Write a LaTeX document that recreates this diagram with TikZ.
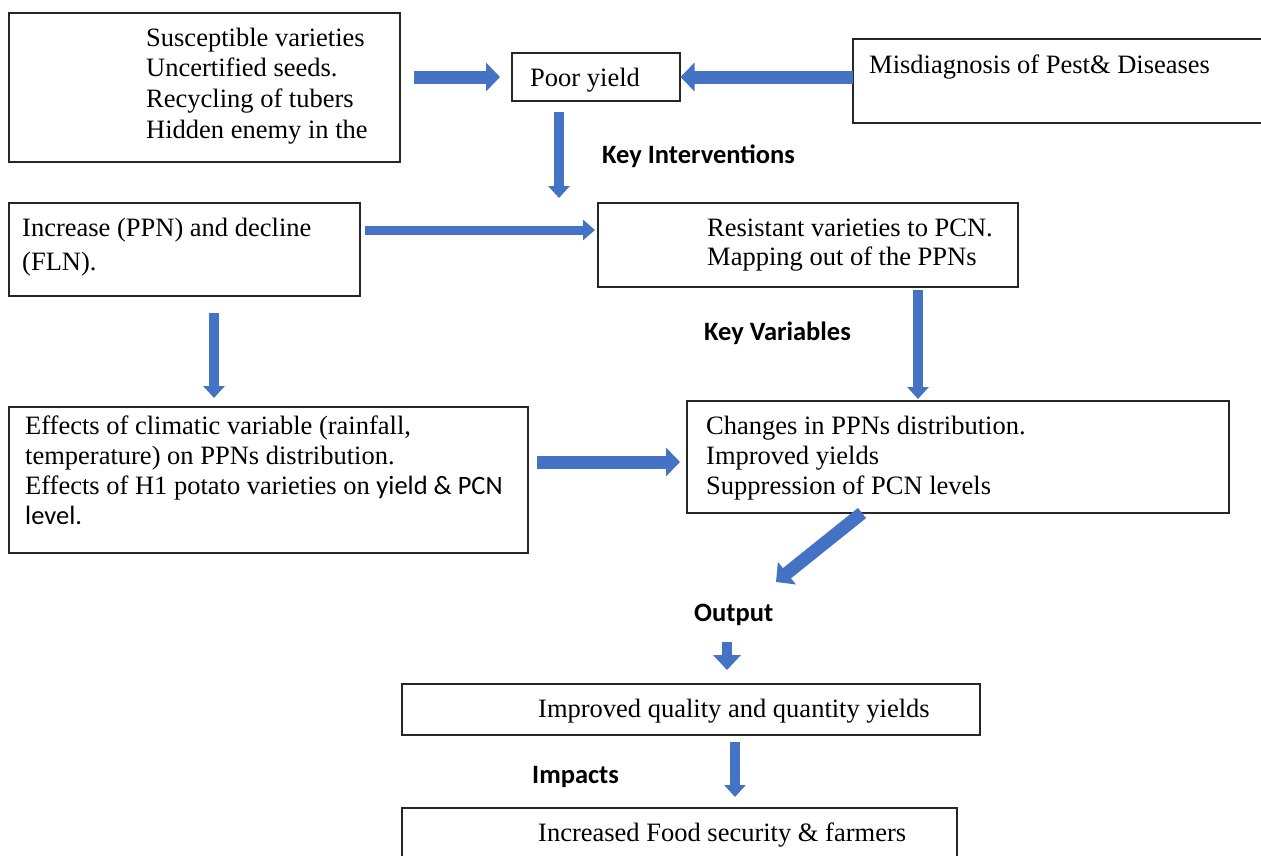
\documentclass[tikz,border=0pt]{standalone}
\usepackage{fontspec}
\setmainfont{Liberation Serif}
\newfontfamily\calfont{Carlito}
\usetikzlibrary{arrows.meta}
\definecolor{ablue}{HTML}{4472C4}
\begin{document}
\begin{tikzpicture}[x=1pt,y=-1pt,
  box/.style={draw=black!85, line width=1.4pt, inner sep=0pt, outer sep=0pt, anchor=north west},
  txt/.style={anchor=base west, inner sep=0pt, font=\fontsize{26.5}{30}\selectfont},
  hd/.style={anchor=base west, inner sep=0pt, font=\calfont\bfseries\fontsize{26.5}{30}\selectfont},
  barrow/.style={draw=ablue, line width=13pt, -{Triangle[length=14pt,width=28pt]}},
  tarrow/.style={draw=ablue, line width=10pt, -{Triangle[length=12pt,width=21pt]}},
]
\useasboundingbox (0,0) rectangle (1261,855);
\clip (0,0) rectangle (1261,855);
\fill[white] (0,0) rectangle (1261,855);

% boxes
\node[box, minimum width=391pt, minimum height=149pt] (tl) at (9,13) {};
\node[box, minimum width=168pt, minimum height=48pt] (py) at (512,53) {};
\node[box, minimum width=420pt, minimum height=84pt] (md) at (853,39) {};
\node[box, minimum width=351pt, minimum height=93pt] (inc) at (9,203) {};
\node[box, minimum width=420pt, minimum height=84pt] (rv) at (598,203) {};
\node[box, minimum width=519pt, minimum height=146pt] (ef) at (9,407) {};
\node[box, minimum width=542pt, minimum height=112pt] (ch) at (687,401) {};
\node[box, minimum width=578pt, minimum height=51pt] (im) at (402,684) {};
\node[box, minimum width=555pt, minimum height=90pt] (fs) at (402,808) {};

% texts
\node[txt] (tla) at (146,46) {Susceptible varieties};
\node[txt] (tlb) at (146,76) {Uncertified seeds.};
\node[txt] (tlc) at (146,107) {Recycling of tubers};
\node[txt] (tld) at (146,138) {Hidden enemy in the};
\node[txt] (pyt) at (530,86) {Poor yield};
\node[txt] (mdt) at (869,73) {Misdiagnosis of Pest\& Diseases};
\node[txt] (inca) at (22,236) {Increase (PPN) and decline};
\node[txt] (incb) at (22,270) {(FLN).};
\node[txt] (rva) at (707,236) {Resistant varieties to PCN.};
\node[txt] (rvb) at (707,265) {Mapping out of the PPNs};
\node[txt] (efa) at (25,434) {Effects of climatic variable (rainfall,};
\node[txt] (efb) at (25,464) {temperature) on PPNs distribution.};
\node[txt] (efc) at (25,494) {Effects of H1 potato varieties on {\calfont yield \& PCN}};
\node[txt] (efd) at (25,524) {\calfont level.};
\node[txt] (cha) at (706,434) {Changes in PPNs distribution.};
\node[txt] (chb) at (706,464) {Improved yields};
\node[txt] (chc) at (706,494) {Suppression of PCN levels};
\node[txt] (imt) at (538,717) {Improved quality and quantity yields};
\node[txt] (fst) at (538,841) {Increased Food security \& farmers};

% headings
\node[hd] (hki) at (602,163) {Key Interventions};
\node[hd] (hkv) at (704,340) {Key Variables};
\node[hd] (hout) at (694,621) {Output};
\node[hd] (himp) at (532,783) {Impacts};

% connectors
\coordinate (otip) at (776,582);
\draw[barrow, shorten <=14pt, shorten >=12pt] (tl.east |- py.west) -- (py.west);
\draw[barrow, shorten >=0.5pt] (md.west |- py.east) -- (py.east);
\draw[tarrow, shorten <=11pt, shorten >=5pt] ([xshift=-37pt]py.south) -- ([xshift=-37pt]py.south |- rv.north);
\draw[tarrow, line width=9pt, -{Triangle[length=12pt,width=20pt]}, shorten <=5pt, shorten >=3pt] ([yshift=19.5pt]inc.east) -- ([yshift=19.5pt]inc.east -| rv.west);
\draw[tarrow, shorten <=17pt, shorten >=9pt] ([xshift=29.5pt]inc.south) -- ([xshift=29.5pt]inc.south |- ef.north);
\draw[tarrow, shorten <=3pt, shorten >=2pt] ([xshift=110pt]rv.south) -- ([xshift=110pt]rv.south |- ch.north);
\draw[barrow, shorten <=9pt, shorten >=7pt] ([yshift=18pt]ef.east) -- ([yshift=18pt]ef.east -| ch.west);
\draw[barrow] ([xshift=-96pt]ch.south) -- (otip);
\draw[tarrow, -{Triangle[length=15pt,width=27pt]}] ([xshift=36pt,yshift=42pt]im.north) -- ([xshift=36pt,yshift=14pt]im.north);
\draw[tarrow, shorten <=7pt, shorten >=11pt] ([xshift=44pt]im.south) -- ([xshift=44pt]im.south |- fs.north);
\end{tikzpicture}
\end{document}
